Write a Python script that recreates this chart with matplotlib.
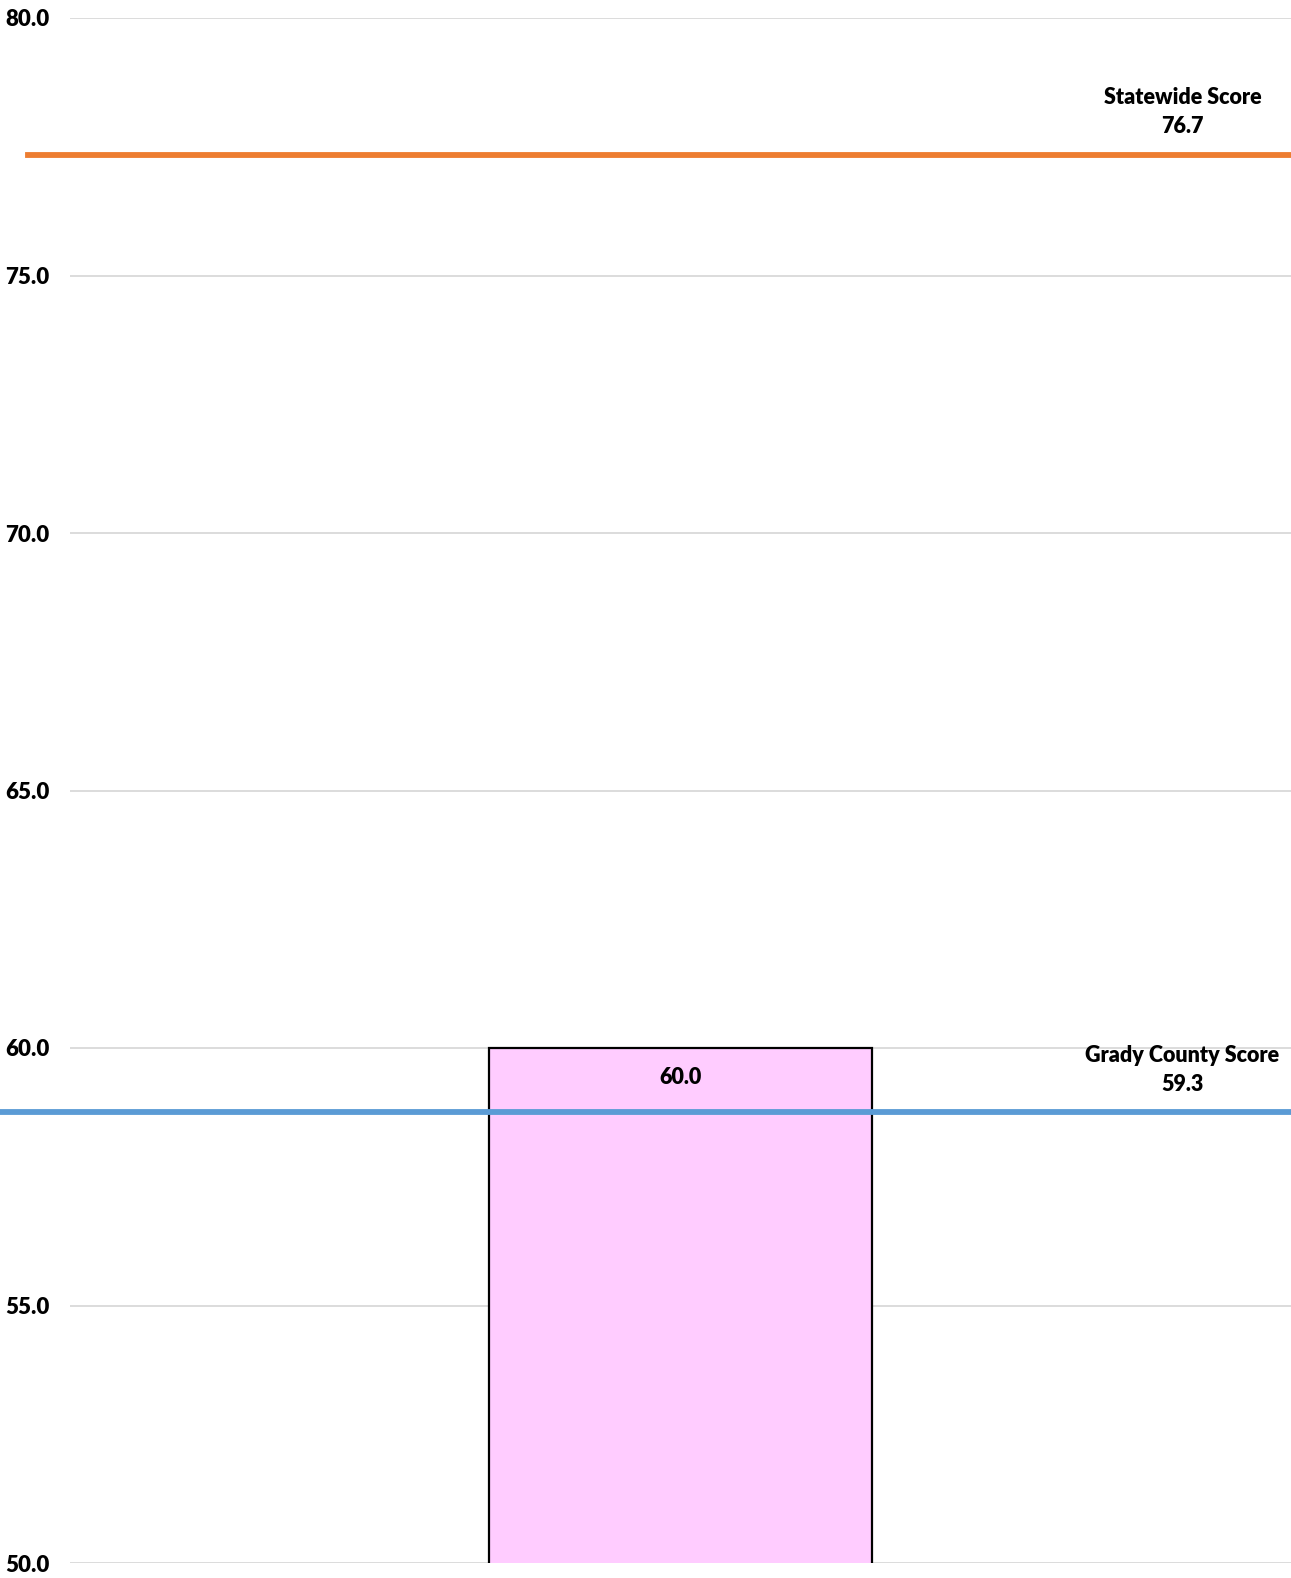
import matplotlib
matplotlib.use("Agg")
import matplotlib.pyplot as plt

# data
categories = ["Grady County"]
bar_values = [60.0]
y_ticks = [50.0, 55.0, 60.0, 65.0, 70.0, 75.0, 80.0]

ref_labels = ["Statewide Score", "Grady County Score"]
ref_scores = [76.7, 59.3]
# where the reference lines are actually drawn in the picture
ref_line_pos = [77.34, 58.76]
ref_colors = ["#ED7D31", "#5B9BD5"]

plt.rcParams["font.family"] = ["Lato", "DejaVu Sans"]
W = "heavy"

fig = plt.figure(figsize=(12.91, 15.78), dpi=100)
ax = fig.add_axes([70 / 1291, 15 / 1578, 1 - 70 / 1291, 1 - 33 / 1578])

x = list(range(len(categories)))
ax.bar(x, bar_values, width=0.314, color="#FFCCFF", edgecolor="black",
       linewidth=1.6, zorder=2)
for xi, v in zip(x, bar_values):
    ax.annotate(f"{v:.1f}", (xi, v), xytext=(0, -21), textcoords="offset points",
                ha="center", va="center", fontsize=15.5, fontweight=W, zorder=5)

# reference lines run past the left edge of the plot area
starts = [-42 / 1221, -70 / 1221]
text_y = [78.17, 59.57]
for pos, col, st, lab, sc, ty in zip(ref_line_pos, ref_colors, starts,
                                     ref_labels, ref_scores, text_y):
    ax.axhline(pos, xmin=st, xmax=1.0, color=col, linewidth=4.2, clip_on=False, zorder=3)
    ax.text(0.911, ty, f"{lab}\n{sc:.1f}", transform=ax.get_yaxis_transform(),
            ha="center", va="center", fontsize=15.5, fontweight=W,
            linespacing=1.5, zorder=5)

ax.set_xlim(-0.5, 0.5)
ax.set_ylim(50, 80)
ax.set_yticks(y_ticks)
ax.set_yticklabels([f"{t:.1f}" for t in y_ticks], fontsize=16, fontweight=W)
for t in ax.get_yticklabels():
    t.set_horizontalalignment("left")
ax.set_xticks([])
ax.yaxis.grid(True, color="#D9D9D9", linewidth=1.3, zorder=0)
ax.set_axisbelow(True)
ax.tick_params(axis="y", length=0, pad=65 * 0.72)
for s in ax.spines.values():
    s.set_visible(False)

fig.savefig("out.png", dpi=100)
